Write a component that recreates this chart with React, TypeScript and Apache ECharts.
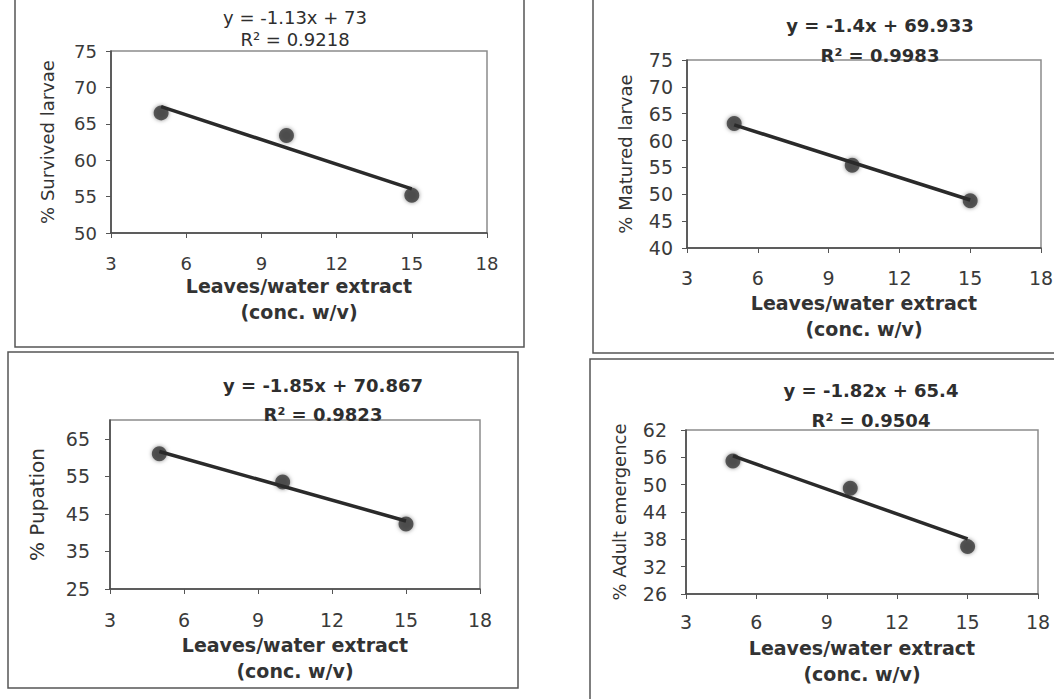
import React, { useEffect, useRef } from "react";
import * as echarts from "echarts";

// ---- data ----
const concentrations = [5, 10, 15];
const xTicks = [3, 6, 9, 12, 15, 18];

const survivedLarvae = [66.5, 63.4, 55.2];
const maturedLarvae = [63.2, 55.4, 48.8];
const pupation = [61, 53.5, 42.3];
const adultEmergence = [55.2, 49.2, 36.4];

const slopes = [-1.13, -1.4, -1.85, -1.82];
const intercepts = [73, 69.933, 70.867, 65.4];

const equationLabels = ["y = -1.13x + 73", "y = -1.4x + 69.933", "y = -1.85x + 70.867", "y = -1.82x + 65.4"];
const r2Labels = ["R² = 0.9218", "R² = 0.9983", "R² = 0.9823", "R² = 0.9504"];

const yNames = ["% Survived larvae", "% Matured larvae", "% Pupation", "% Adult emergence"];
const yTicks1 = [50, 55, 60, 65, 70, 75];
const yTicks2 = [40, 45, 50, 55, 60, 65, 70, 75];
const yTicks3 = [25, 35, 45, 55, 65];
const yTicks4 = [26, 32, 38, 44, 50, 56, 62];
const yRanges = [[50, 75], [40, 75], [25, 70], [26, 62]];
const xName = "Leaves/water extract\n(conc. w/v)";

// ---- layout ----
const FONT = "DejaVu Sans";
const panels = [
  { grid: { left: 111, top: 51, width: 376, height: 182 }, yGap: 55, yMargin: 14, xMargin: 21, xGap: 37, tickSize: 18, yNameSize: 18, eq: [295, 17, 39], eqBold: false, eqSize: 18, box: [15, -5, 509, 352] },
  { grid: { left: 687, top: 60, width: 354, height: 188 }, yGap: 53, yMargin: 14, xMargin: 20, xGap: 42, tickSize: 19, yNameSize: 18, eq: [880, 25, 55], eqBold: true, eqSize: 18, box: [593, -5, 480, 358] },
  { grid: { left: 110, top: 420, width: 370, height: 169 }, yGap: 63, yMargin: 20, xMargin: 21, xGap: 43, tickSize: 19, yNameSize: 20, eq: [323, 385, 414], eqBold: true, eqSize: 18, box: [8, 352, 510, 336] },
  { grid: { left: 686, top: 430, width: 352, height: 164 }, yGap: 58, yMargin: 19, xMargin: 18, xGap: 41, tickSize: 19, yNameSize: 18, eq: [871, 390, 420], eqBold: true, eqSize: 18, box: [590, 359, 480, 360] },
];

const seriesValues = [survivedLarvae, maturedLarvae, pupation, adultEmergence];
const yTickSets = [yTicks1, yTicks2, yTicks3, yTicks4];

export default function App() {
  const ref = useRef<HTMLDivElement>(null);

  useEffect(() => {
    if (!ref.current) return;
    const chart = echarts.init(ref.current, null, { renderer: "svg" });

    const grids: any[] = [];
    const xAxes: any[] = [];
    const yAxes: any[] = [];
    const series: any[] = [];
    const graphics: any[] = [];

    panels.forEach((p, i) => {
      grids.push({
        ...p.grid,
        show: true,
        borderColor: "#8c8c8c",
        borderWidth: 1.5,
        backgroundColor: "transparent",
        containLabel: false,
        outerBoundsMode: "none",
      });
      xAxes.push({
        type: "value",
        gridIndex: i,
        min: xTicks[0],
        max: xTicks[xTicks.length - 1],
        interval: xTicks[1] - xTicks[0],
        name: xName,
        nameLocation: "middle",
        nameGap: p.xGap,
        nameTextStyle: { fontFamily: FONT, fontSize: 19, fontWeight: "bold", color: "#333", lineHeight: 26 },
        axisLine: { show: true, onZero: false, lineStyle: { color: "#444", width: 1.5 } },
        axisTick: { show: true, inside: false, length: 5, lineStyle: { color: "#555" } },
        axisLabel: { fontFamily: FONT, fontSize: p.tickSize, color: "#3a3a3a", margin: p.xMargin, showMaxLabel: true, showMinLabel: true },
        splitLine: { show: false },
      });
      yAxes.push({
        type: "value",
        gridIndex: i,
        min: yRanges[i][0],
        max: yRanges[i][1],
        name: yNames[i],
        nameLocation: "middle",
        nameGap: p.yGap,
        nameTextStyle: { fontFamily: FONT, fontSize: p.yNameSize, color: "#333" },
        axisLine: { show: true, onZero: false, lineStyle: { color: "#444", width: 1.5 } },
        axisTick: { show: true, inside: false, length: 5, customValues: yTickSets[i], lineStyle: { color: "#555" } },
        axisLabel: { fontFamily: FONT, fontSize: p.tickSize, color: "#3a3a3a", margin: p.yMargin, customValues: yTickSets[i] },
        splitLine: { show: false },
      });
      series.push({
        type: "scatter",
        xAxisIndex: i,
        yAxisIndex: i,
        symbol: "circle",
        symbolSize: 15,
        itemStyle: { color: "#3a3a3a", shadowBlur: 4, shadowColor: "rgba(0,0,0,0.55)" },
        data: concentrations.map((c, k) => [c, seriesValues[i][k]]),
        z: 3,
      });
      const x0 = concentrations[0];
      const x1 = concentrations[concentrations.length - 1];
      series.push({
        type: "line",
        xAxisIndex: i,
        yAxisIndex: i,
        showSymbol: false,
        symbol: "none",
        lineStyle: { color: "#2a2a2a", width: 3.5 },
        data: [
          [x0, slopes[i] * x0 + intercepts[i]],
          [x1, slopes[i] * x1 + intercepts[i]],
        ],
        z: 4,
      });
      graphics.push({
        type: "rect",
        shape: { x: p.box[0], y: p.box[1], width: p.box[2], height: p.box[3] },
        style: { fill: "none", stroke: "#555", lineWidth: 1.5 },
        z: 0,
        silent: true,
      });
      const font = { fontFamily: FONT, fontSize: p.eqSize, fontWeight: p.eqBold ? "bold" : "normal", fill: "#2e2e2e" };
      graphics.push({
        type: "text",
        x: p.eq[0],
        y: p.eq[1],
        style: { text: equationLabels[i], textAlign: "center", textVerticalAlign: "middle", ...font },
        z: 10,
      });
      graphics.push({
        type: "text",
        x: p.eq[0],
        y: p.eq[2],
        style: { text: r2Labels[i], textAlign: "center", textVerticalAlign: "middle", ...font },
        z: 10,
      });
    });

    chart.setOption({
      animation: false,
      backgroundColor: "#ffffff",
      textStyle: { fontFamily: FONT },
      grid: grids,
      xAxis: xAxes,
      yAxis: yAxes,
      series,
      graphic: graphics,
    });

    return () => chart.dispose();
  }, []);

  return <div ref={ref} style={{ position: "absolute", left: 0, top: 0, width: 1054, height: 699 }} />;
}
